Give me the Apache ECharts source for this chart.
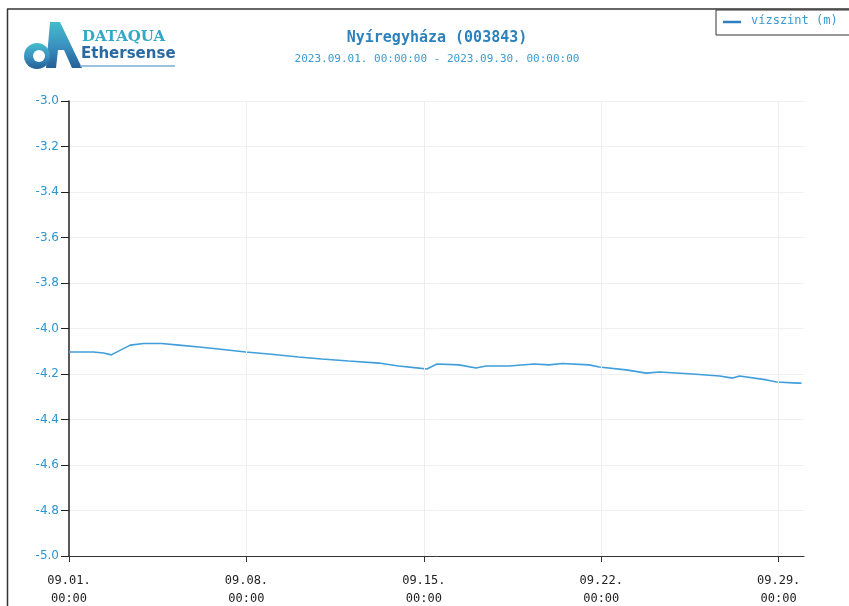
<!DOCTYPE html>
<html>
<head>
<meta charset="utf-8">
<script src="https://cdn.jsdelivr.net/npm/echarts@6/dist/echarts.min.js"></script>
<style>
html,body{margin:0;padding:0;background:#fff;}
#chart{width:849px;height:606px;}
</style>
</head>
<body>
<div id="chart"></div>
<script>
// Water level readings: day offset from 2023.09.01 00:00 and level in metres
const dayOffsets = [0, 0.96, 1.36, 1.67, 2.03, 2.42, 2.94, 3.65, 4.34, 5.13, 5.9, 6.97, 7.88, 9.06, 9.97,
  11.04, 12.22, 13.0, 13.81, 14.12, 14.52, 15.39, 16.06, 16.45, 17.36, 18.35, 18.94, 19.46, 20.52,
  20.92, 21.98, 22.78, 23.3, 24.6, 25.67, 26.18, 26.46, 27.53, 27.92, 28.75, 28.9];
const levels = [-4.103, -4.103, -4.108, -4.116, -4.095, -4.073, -4.066, -4.066, -4.073, -4.081, -4.09,
  -4.103, -4.112, -4.125, -4.134, -4.143, -4.152, -4.165, -4.174, -4.178, -4.156, -4.160, -4.174,
  -4.165, -4.165, -4.156, -4.160, -4.154, -4.160, -4.169, -4.182, -4.196, -4.191, -4.200, -4.209,
  -4.218, -4.209, -4.226, -4.235, -4.240, -4.240];
const xTickDays = [0, 7, 14, 21, 28];
const seriesName = 'vízszint (m)';
const titleText = 'Nyíregyháza (003843)';
const subtitleText = '2023.09.01. 00:00:00 - 2023.09.30. 00:00:00';

const mono = '"DejaVu Sans Mono", "Liberation Mono", monospace';
const lineColor = '#3f9edb';

// teal-to-blue fill used by the logo mark
const logoFill = new echarts.graphic.LinearGradient(0, 0, 0, 1, [
  {offset: 0, color: '#45bccb'},
  {offset: 0.55, color: '#3a8fbf'},
  {offset: 1, color: '#245f96'}
]);

const chart = echarts.init(document.getElementById('chart'), null, {renderer: 'canvas'});
chart.setOption({
  backgroundColor: '#ffffff',
  animation: false,
  title: {
    text: titleText,
    subtext: subtitleText,
    left: 432, top: 26, textAlign: 'center',
    itemGap: 8,
    textStyle: {fontFamily: mono, fontSize: 15, fontWeight: 'bold', color: '#2c82bd'},
    subtextStyle: {fontFamily: mono, fontSize: 11, color: '#3a9ad0'}
  },
  grid: {left: 69, right: 45, top: 101, bottom: 50, outerBoundsMode: 'none', containLabel: false},
  xAxis: {
    type: 'value', min: 0, max: 29, interval: 7,
    axisLine: {lineStyle: {color: '#333', width: 1}},
    axisTick: {length: 6, customValues: xTickDays, lineStyle: {color: '#333'}},
    splitLine: {show: false},
    axisLabel: {
      margin: 16, fontFamily: mono, fontSize: 12, color: '#222', lineHeight: 18,
      customValues: xTickDays,
      formatter: function (v) {
        const d = String(1 + v).padStart(2, '0');
        return '09.' + d + '.\n00:00';
      }
    }
  },
  yAxis: {
    type: 'value', min: -5, max: -3, interval: 0.2,
    axisLine: {show: true, lineStyle: {color: '#222', width: 1.5}},
    axisTick: {show: true, length: 8, lineStyle: {color: '#222'}},
    splitLine: {show: true, lineStyle: {color: '#f0f0f0'}},
    axisLabel: {
      margin: 10, fontFamily: 'Verdana, "DejaVu Sans", sans-serif', fontSize: 12, color: '#2a95d0',
      formatter: v => v.toFixed(1)
    }
  },
  series: [{
    name: seriesName,
    type: 'line',
    data: dayOffsets.map((d, i) => [d, levels[i]]),
    showSymbol: false,
    lineStyle: {color: lineColor, width: 1.6},
    itemStyle: {color: lineColor},
    markLine: {
      silent: true, symbol: 'none', label: {show: false},
      lineStyle: {color: '#eeeeee', type: 'solid', width: 1},
      data: xTickDays.slice(1).map(d => ({xAxis: d}))
    }
  }],
  graphic: [
    // page frame
    {type: 'line', shape: {x1: 7, y1: 9, x2: 849, y2: 9}, style: {stroke: '#333', lineWidth: 1.5}},
    {type: 'line', shape: {x1: 7.5, y1: 9, x2: 7.5, y2: 606}, style: {stroke: '#333', lineWidth: 1.5}},
    // legend box
    {type: 'rect', shape: {x: 716, y: 10, width: 140, height: 25}, style: {fill: '#fff', stroke: '#333', lineWidth: 1}},
    {type: 'line', shape: {x1: 723, y1: 22, x2: 741, y2: 22}, style: {stroke: '#2f7fc0', lineWidth: 2.5}},
    {type: 'text', left: 751, top: 15, style: {text: seriesName, font: '12px ' + mono, fill: '#3a9ad0'}},
    // logo mark: "d" bowl, slanted stem and "A"
    {type: 'polygon', shape: {points: [[50, 22], [60, 22], [82, 68], [72, 68], [64, 50], [58, 50], [56, 68], [46, 68]]}, style: {fill: logoFill}},
    {type: 'circle', shape: {cx: 37, cy: 56, r: 13}, style: {fill: logoFill}},
    {type: 'circle', shape: {cx: 39, cy: 56, r: 6}, style: {fill: '#ffffff'}},
    {type: 'text', left: 82, top: 30, style: {text: 'DATAQUA', font: 'bold 15px "DejaVu Serif", serif', fill: '#32a9c6'}},
    {type: 'text', left: 81, top: 47, style: {text: 'Ethersense', font: 'bold 15px "DejaVu Sans", sans-serif', fill: '#2a6aa2'}},
    {type: 'line', shape: {x1: 80, y1: 66, x2: 175, y2: 66}, style: {stroke: '#7aaed0', lineWidth: 1.5}}
  ]
});
</script>
</body>
</html>
